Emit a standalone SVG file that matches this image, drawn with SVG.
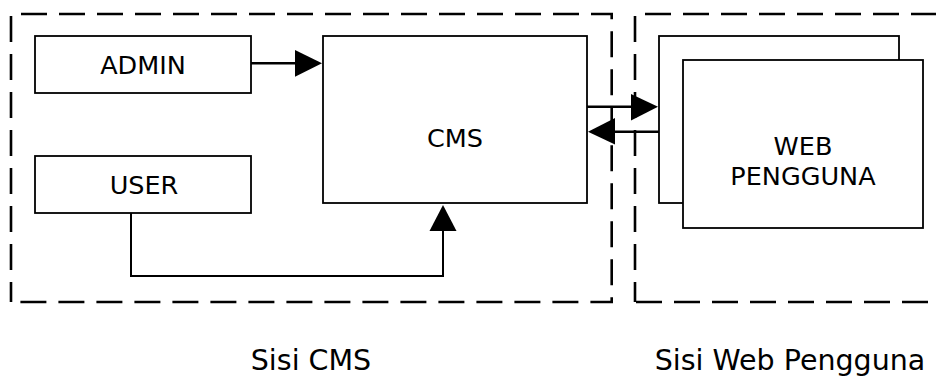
<svg xmlns="http://www.w3.org/2000/svg" width="936" height="376" viewBox="0 0 936 376">
<style>
  .zone { fill: none; stroke: #000; stroke-width: 2.6; stroke-dasharray: 26 12; }
  .box { fill: #fff; stroke: #000; stroke-width: 1.8; }
  .lbl { font-family: "DejaVu Sans", "Verdana", sans-serif; font-size: 25.5px; fill: #000; text-anchor: middle; }
  .cap { font-family: "DejaVu Sans", "Verdana", sans-serif; font-size: 28.5px; fill: #000; text-anchor: middle; }
  .con { fill: none; stroke: #000; stroke-width: 2.5; }
  .con2 { fill: none; stroke: #000; stroke-width: 2; }
  .head { fill: #000; stroke: none; }
</style>
<rect width="936" height="376" fill="#fff"/>
<g id="zone-cms">
  <path class="zone" d="M11,302 V14 H611.7 V302 Z" stroke-dashoffset="6"/>
  <text class="cap" x="311" y="370">Sisi CMS</text>
</g>
<g id="zone-web">
  <path class="zone" d="M635,302 V14 H960 M960,302 H635" stroke-dashoffset="6"/>
  <text class="cap" x="790" y="370">Sisi Web Pengguna</text>
</g>
<g id="admin">
  <rect class="box" x="35" y="36" width="216" height="57"/>
  <text class="lbl" x="143" y="74">ADMIN</text>
</g>
<g id="user">
  <rect class="box" x="35" y="156" width="216" height="57"/>
  <text class="lbl" x="144" y="194">USER</text>
</g>
<g id="cms">
  <rect class="box" x="323" y="36" width="264" height="167"/>
  <text class="lbl" x="455" y="147">CMS</text>
</g>
<g id="web-pengguna">
  <rect class="box" x="659" y="36" width="240" height="167"/>
  <rect class="box" x="683" y="60" width="240" height="168"/>
  <text class="lbl" x="803" y="155">WEB</text>
  <text class="lbl" x="803" y="185">PENGGUNA</text>
</g>
<g id="connectors">
  <path class="con" d="M251,63.3 H300"/>
  <polygon class="head" points="295,50 322,63.3 295,76.7"/>
  <path class="con2" d="M131,213 V276 H443 V228"/>
  <polygon class="head" points="443,205 456.5,231 429.5,231"/>
  <path class="con" d="M587,106.7 H636"/>
  <polygon class="head" points="631,94 658,106.7 631,120.5"/>
  <path class="con" d="M659,131.7 H610"/>
  <polygon class="head" points="615,118 588,131.7 615,144.5"/>
</g>
</svg>
